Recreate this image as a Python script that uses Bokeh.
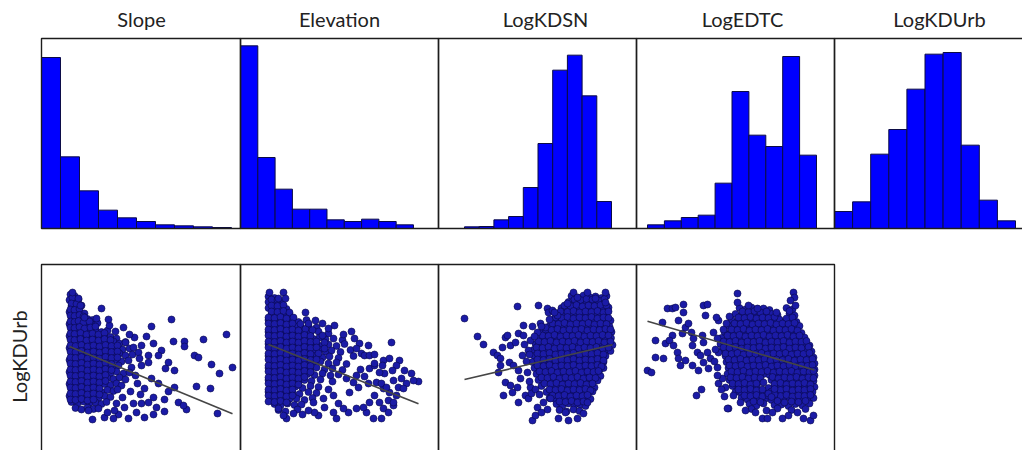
import math
import numpy as np
from bokeh.plotting import figure
from bokeh.models import Range1d, BoxAnnotation, Label
from bokeh.embed import file_html
from bokeh.resources import INLINE

# ---------------------------------------------------------------------------
# Data
# ---------------------------------------------------------------------------
variables = ["Slope", "Elevation", "LogKDSN", "LogEDTC", "LogKDUrb"]

# Histograms: 10 equal-width bins between the given limits
slope_bins = (0.0, 40.0)
elevation_bins = (0.0, 1500.0)
logkdsn_bins = (-2.0, 0.94)
logedtc_bins = (-1.98, 1.40)
logkdurb_bins = (-0.40, 2.20)

slope_counts = [513, 215, 113, 55, 32, 21, 11, 8, 5, 3]
elevation_counts = [548, 213, 118, 58, 58, 26, 21, 28, 21, 11]
logkdsn_counts = [5, 6, 26, 36, 123, 255, 475, 520, 398, 81]
logedtc_counts = [11, 23, 33, 40, 136, 411, 280, 246, 516, 220]
logkdurb_counts = [51, 80, 223, 297, 418, 523, 528, 250, 85, 23]

# Scatter observations: (predictor, LogKDUrb)
slope_pts = [
    (0.25, 2.20), (1.25, 2.17),
    (0.0, 2.09), (1.0, 2.06), (2.25, 2.10),
    (0.5, 1.97), (1.75, 1.95), (3.0, 1.98),
    (0.0, 1.85), (1.25, 1.83), (2.5, 1.86), (3.75, 1.82),
    (0.5, 1.73), (1.75, 1.70), (3.0, 1.74), (4.5, 1.71), (5.75, 1.69),
    (0.0, 1.61), (1.25, 1.59), (2.75, 1.62), (4.0, 1.58), (5.5, 1.60), (7.0, 1.63),
    (0.5, 1.49), (2.0, 1.46), (3.5, 1.50), (5.0, 1.47), (6.5, 1.49), (8.0, 1.45), (9.5, 1.48),
    (0.0, 1.37), (1.5, 1.35), (2.75, 1.38), (4.25, 1.34), (5.75, 1.36), (7.25, 1.33), (8.75, 1.37),
    (10.25, 1.35), (11.75, 1.32),
    (0.5, 1.25), (2.0, 1.22), (3.5, 1.26), (5.0, 1.23), (6.5, 1.25), (8.0, 1.21), (9.5, 1.24),
    (11.0, 1.26), (12.5, 1.22), (14.0, 1.25),
    (0.0, 1.13), (1.25, 1.11), (2.75, 1.14), (4.25, 1.10), (5.75, 1.12), (7.25, 1.09), (8.75, 1.13),
    (10.25, 1.11), (11.75, 1.14), (13.25, 1.10), (15.0, 1.12),
    (0.5, 1.01), (2.0, 0.98), (3.5, 1.02), (5.0, 0.99), (6.5, 1.00), (8.0, 0.97), (9.5, 1.01),
    (11.0, 0.99), (12.5, 1.02), (14.0, 0.98), (15.75, 1.00),
    (0.0, 0.89), (1.25, 0.87), (2.75, 0.90), (4.25, 0.86), (5.75, 0.88), (7.25, 0.85), (8.75, 0.89),
    (10.25, 0.87), (11.75, 0.90), (13.0, 0.86), (14.75, 0.88),
    (0.5, 0.77), (2.0, 0.74), (3.5, 0.78), (5.0, 0.75), (6.5, 0.76), (8.0, 0.73), (9.5, 0.77),
    (11.0, 0.75), (12.25, 0.78), (15.5, 0.74),
    (0.0, 0.65), (1.25, 0.63), (2.75, 0.66), (4.25, 0.62), (5.75, 0.64), (7.25, 0.61), (8.75, 0.65),
    (10.25, 0.63), (11.75, 0.66), (13.5, 0.62), (15.0, 0.64),
    (0.5, 0.53), (2.0, 0.50), (3.5, 0.54), (5.0, 0.51), (6.5, 0.52), (8.0, 0.49), (9.5, 0.53),
    (11.0, 0.51), (12.5, 0.54), (14.0, 0.50),
    (0.0, 0.41), (1.25, 0.39), (2.75, 0.42), (4.25, 0.38), (5.75, 0.40), (7.25, 0.37), (8.75, 0.41),
    (10.25, 0.39), (11.75, 0.42), (13.0, 0.38),
    (0.5, 0.29), (2.0, 0.26), (3.5, 0.30), (5.0, 0.27), (6.5, 0.28), (8.0, 0.25), (9.5, 0.29),
    (11.0, 0.27), (12.0, 0.30),
    (0.0, 0.17), (1.25, 0.15), (2.75, 0.18), (4.25, 0.14), (5.75, 0.16), (7.25, 0.13), (8.75, 0.17),
    (10.25, 0.15),
    (0.5, 0.05), (2.0, 0.02), (3.5, 0.06), (5.0, 0.03), (6.5, 0.04), (8.0, 0.01), (9.25, 0.05),
    (1.5, -0.07), (3.0, -0.10), (4.5, -0.06), (6.0, -0.09),
    (0.75, 2.14),
    (0.5, 2.02), (1.75, 2.01),
    (0.25, 1.90), (1.25, 1.89), (2.5, 1.91),
    (0.25, 1.78), (1.25, 1.77), (2.5, 1.79), (3.5, 1.76),
    (0.25, 1.66), (1.25, 1.65), (2.25, 1.67), (3.5, 1.64), (5.0, 1.66),
    (0.25, 1.54), (1.25, 1.53), (2.5, 1.55), (3.75, 1.52), (5.25, 1.54), (6.5, 1.56),
    (0.25, 1.42), (1.25, 1.41), (2.75, 1.43), (4.25, 1.40), (5.75, 1.42), (7.25, 1.40), (8.75, 1.43),
    (0.25, 1.30), (1.25, 1.29), (2.75, 1.31), (4.25, 1.28), (5.75, 1.30), (7.25, 1.28), (8.75, 1.31),
    (10.25, 1.29),
    (0.25, 1.18), (1.5, 1.17), (3.0, 1.19), (4.5, 1.16), (6.0, 1.18), (7.5, 1.16), (9.0, 1.19),
    (10.5, 1.17), (12.0, 1.18),
    (0.25, 1.06), (1.5, 1.05), (3.0, 1.07), (4.5, 1.04), (6.0, 1.06), (7.5, 1.04), (9.0, 1.07),
    (10.5, 1.05), (12.0, 1.06),
    (0.25, 0.94), (1.5, 0.93), (3.0, 0.95), (4.5, 0.92), (6.0, 0.94), (7.5, 0.92), (9.0, 0.95),
    (10.5, 0.93), (12.0, 0.94),
    (0.25, 0.82), (1.5, 0.81), (3.0, 0.83), (4.5, 0.80), (6.0, 0.82), (7.5, 0.80), (9.0, 0.83),
    (10.5, 0.81),
    (0.25, 0.70), (1.5, 0.69), (3.0, 0.71), (4.5, 0.68), (6.0, 0.70), (7.5, 0.68), (9.0, 0.71),
    (10.5, 0.69),
    (0.25, 0.58), (1.5, 0.57), (3.0, 0.59), (4.5, 0.56), (6.0, 0.58), (7.5, 0.56), (9.0, 0.59),
    (0.25, 0.46), (1.5, 0.45), (3.0, 0.47), (4.5, 0.44), (6.0, 0.46), (7.5, 0.44), (9.0, 0.47),
    (0.25, 0.34), (1.5, 0.33), (3.0, 0.35), (4.5, 0.32), (6.0, 0.34), (7.5, 0.32),
    (0.25, 0.22), (1.5, 0.21), (3.0, 0.23), (4.5, 0.20), (6.0, 0.22), (7.5, 0.20),
    (0.25, 0.10), (1.5, 0.09), (3.0, 0.11), (4.5, 0.08), (6.0, 0.10),
    (8.0, 1.92), (6.75, 1.72), (10.0, 1.58), (13.5, 1.54), (20.5, 1.56), (25.5, 1.70), (16.25, 1.34),
    (19.25, 1.36), (21.0, 1.22), (26.0, 1.26), (28.75, 1.26), (28.75, 1.16), (33.5, 1.30), (39.25, 1.40),
    (23.0, 1.08), (22.25, 0.98), (19.75, 0.98), (24.75, 0.84), (24.0, 0.72), (26.25, 0.68), (31.25, 0.98),
    (32.25, 0.94), (35.5, 0.80), (40.75, 0.74), (37.5, 0.62), (31.75, 0.36), (35.25, 0.32), (26.25, 0.34),
    (24.75, 0.26), (22.25, 0.42), (20.5, 0.52), (18.75, 0.32), (17.75, 0.20), (21.0, 0.14), (23.75, 0.10),
    (27.25, 0.04), (29.25, -0.10), (28.5, -0.02), (37.0, -0.18), (23.75, -0.14), (21.0, -0.20),
    (18.75, -0.26), (16.75, -0.16), (14.75, -0.28), (12.25, -0.20), (11.0, -0.28), (8.75, -0.26),
    (5.75, -0.30), (4.75, -0.12), (7.25, -0.08), (13.75, -0.06), (16.0, 0.02), (11.75, 0.02), (18.0, 0.02),
    (19.75, 0.04), (21.75, -0.06), (18.0, 0.78), (19.75, 0.84), (17.25, 1.04), (16.0, 1.14), (18.0, 1.18),
    (14.0, 1.24), (0.75, 2.24), (2.25, 2.12), (2.75, 1.98), (3.75, 1.74),
    (9.75, 1.70), (11.5, 1.46), (16.5, 0.58), (17.0, 0.42), (15.25, 0.26), (13.25, 0.14), (11.25, -0.12),
    (9.5, -0.16), (15.0, 1.40), (17.5, 0.92),
]

elevation_pts = [
    (0, 2.16), (60, 2.13),
    (0, 2.05), (60, 2.02), (120, 2.06),
    (0, 1.93), (60, 1.90), (120, 1.94), (180, 1.91),
    (30, 1.81), (90, 1.78), (150, 1.82), (210, 1.79),
    (0, 1.69), (60, 1.66), (120, 1.70), (180, 1.67), (240, 1.68), (300, 1.65), (380, 1.69),
    (30, 1.57), (90, 1.54), (150, 1.58), (210, 1.55), (270, 1.56), (330, 1.53), (400, 1.57), (480, 1.54),
    (0, 1.45), (60, 1.42), (120, 1.46), (180, 1.43), (240, 1.44), (300, 1.41), (360, 1.45), (420, 1.43),
    (500, 1.46), (600, 1.42),
    (30, 1.33), (90, 1.30), (150, 1.34), (210, 1.31), (270, 1.32), (330, 1.29), (390, 1.33), (450, 1.31),
    (510, 1.34), (570, 1.30), (650, 1.32), (740, 1.29),
    (0, 1.21), (60, 1.18), (120, 1.22), (180, 1.19), (240, 1.20), (300, 1.17), (360, 1.21), (420, 1.19),
    (480, 1.22), (540, 1.18), (600, 1.20), (680, 1.17), (760, 1.21),
    (30, 1.09), (90, 1.06), (150, 1.10), (210, 1.07), (270, 1.08), (330, 1.05), (390, 1.09), (450, 1.07),
    (510, 1.10), (570, 1.06), (630, 1.08), (720, 1.05), (820, 1.09),
    (0, 0.97), (60, 0.94), (120, 0.98), (180, 0.95), (240, 0.96), (300, 0.93), (360, 0.97), (420, 0.95),
    (480, 0.98), (540, 0.94), (610, 0.96), (700, 0.93), (850, 0.97),
    (30, 0.85), (90, 0.82), (150, 0.86), (210, 0.83), (270, 0.84), (330, 0.81), (390, 0.85), (450, 0.83),
    (520, 0.86), (600, 0.82), (680, 0.84), (780, 0.81),
    (0, 0.73), (60, 0.70), (120, 0.74), (180, 0.71), (240, 0.72), (300, 0.69), (360, 0.73), (420, 0.71),
    (480, 0.74), (560, 0.70), (640, 0.72), (740, 0.69),
    (30, 0.61), (90, 0.58), (150, 0.62), (210, 0.59), (270, 0.60), (330, 0.57), (390, 0.61), (460, 0.59),
    (540, 0.62), (620, 0.58), (700, 0.60),
    (0, 0.49), (60, 0.46), (120, 0.50), (180, 0.47), (240, 0.48), (300, 0.45), (360, 0.49), (430, 0.47),
    (520, 0.50), (640, 0.46),
    (30, 0.37), (90, 0.34), (150, 0.38), (210, 0.35), (270, 0.36), (340, 0.33), (420, 0.37), (500, 0.35),
    (0, 0.25), (60, 0.22), (120, 0.26), (180, 0.23), (240, 0.24), (310, 0.21), (400, 0.25), (480, 0.23),
    (30, 0.13), (90, 0.10), (150, 0.14), (210, 0.11), (280, 0.12), (360, 0.09), (440, 0.13),
    (60, 0.01), (120, -0.02), (190, 0.02), (260, -0.01), (330, 0.00),
    (100, -0.11), (170, -0.14), (290, -0.10),
    (30, 2.10), (90, 2.09),
    (30, 1.98), (90, 1.97), (150, 1.99),
    (30, 1.86), (90, 1.85), (150, 1.87), (210, 1.84),
    (0, 1.74), (60, 1.73), (120, 1.75), (180, 1.72), (250, 1.74),
    (0, 1.62), (60, 1.61), (120, 1.63), (180, 1.60), (240, 1.62), (320, 1.61),
    (0, 1.50), (60, 1.49), (120, 1.51), (180, 1.48), (240, 1.50), (300, 1.48), (370, 1.51), (440, 1.49),
    (0, 1.38), (60, 1.37), (120, 1.39), (180, 1.36), (240, 1.38), (300, 1.36), (360, 1.39), (420, 1.37),
    (540, 1.38),
    (0, 1.26), (60, 1.25), (120, 1.27), (180, 1.24), (240, 1.26), (300, 1.24), (360, 1.27), (420, 1.25),
    (480, 1.26), (560, 1.24),
    (0, 1.14), (60, 1.13), (120, 1.15), (180, 1.12), (240, 1.14), (300, 1.12), (360, 1.15), (420, 1.13),
    (480, 1.14), (560, 1.12),
    (0, 1.02), (60, 1.01), (120, 1.03), (180, 1.00), (240, 1.02), (300, 1.00), (360, 1.03), (420, 1.01),
    (500, 1.02),
    (0, 0.90), (60, 0.89), (120, 0.91), (180, 0.88), (240, 0.90), (300, 0.88), (360, 0.91), (420, 0.89),
    (480, 0.90),
    (0, 0.78), (60, 0.77), (120, 0.79), (180, 0.76), (240, 0.78), (300, 0.76), (360, 0.79), (420, 0.77),
    (0, 0.66), (60, 0.65), (120, 0.67), (180, 0.64), (240, 0.66), (300, 0.64), (360, 0.67), (420, 0.65),
    (0, 0.54), (60, 0.53), (120, 0.55), (180, 0.52), (240, 0.54), (300, 0.52), (360, 0.55),
    (0, 0.42), (60, 0.41), (120, 0.43), (180, 0.40), (240, 0.42), (300, 0.40),
    (0, 0.30), (60, 0.29), (120, 0.31), (180, 0.28), (240, 0.30),
    (0, 0.18), (60, 0.17), (120, 0.19), (180, 0.16), (240, 0.18),
    (0, 0.06), (60, 0.05), (120, 0.07), (180, 0.04),
    (10, 2.24), (150, 2.24), (100, 2.12), (170, 2.12), (370, 1.84), (400, 1.62), (470, 1.68), (660, 1.58),
    (750, 1.40), (830, 1.46), (860, 1.32), (910, 1.22), (1230, 1.24), (930, 1.02), (960, 0.98), (1010, 0.98),
    (1060, 1.00), (1150, 0.88), (1210, 0.92), (1310, 0.88), (1280, 0.78), (1360, 0.68), (1430, 0.62),
    (1500, 0.46), (1450, 0.48), (1380, 0.42), (1330, 0.52), (1250, 0.48), (1160, 0.62), (1110, 0.64),
    (1080, 0.44), (1150, 0.32), (1210, 0.24), (1280, 0.18), (1200, 0.08), (1250, -0.02), (1150, -0.08),
    (1200, -0.16), (1130, -0.28), (1050, -0.28), (980, -0.16), (950, -0.06), (880, -0.08), (800, -0.16),
    (680, -0.28), (650, -0.16), (750, -0.08), (500, -0.22), (460, -0.16), (400, -0.12), (180, -0.28),
    (150, -0.22), (100, -0.08), (450, 0.04), (550, 0.12), (650, 0.18), (810, 0.24), (900, 0.34),
    (1000, 0.42), (850, 0.44), (780, 0.52), (880, 0.58), (1010, 0.72), (1060, 0.78), (1130, 0.42),
    (1180, 0.34), (1300, 0.34), (1350, 0.32), (1060, 0.18), (1010, 0.04), (1110, 0.04), (1250, 0.04),
    (1060, 0.82), (1140, 0.78), (1240, 0.68), (1000, 1.18),
    (540, 1.62), (600, 1.52), (880, 1.12), (920, 0.70), (960, 0.56), (600, 0.30), (700, 0.02),
    (560, -0.06), (340, -0.20), (250, -0.18),
]

logkdsn_pts = [
    (0.14, 2.17), (0.26, 2.14), (0.38, 2.18), (0.50, 2.15), (0.62, 2.16), (0.74, 2.13), (0.84, 2.17),
    (0.08, 2.05), (0.20, 2.02), (0.32, 2.06), (0.44, 2.03), (0.56, 2.04), (0.68, 2.01), (0.80, 2.05),
    (-0.06, 1.93), (0.06, 1.90), (0.18, 1.94), (0.30, 1.91), (0.42, 1.92), (0.54, 1.89), (0.66, 1.93),
    (0.78, 1.91), (0.88, 1.94),
    (-0.12, 1.81), (0.0, 1.78), (0.12, 1.82), (0.24, 1.79), (0.36, 1.80), (0.48, 1.77), (0.60, 1.81),
    (0.72, 1.79), (0.84, 1.82),
    (-0.24, 1.69), (-0.12, 1.66), (0.0, 1.70), (0.12, 1.67), (0.24, 1.68), (0.36, 1.65), (0.48, 1.69),
    (0.60, 1.67), (0.72, 1.70), (0.84, 1.66), (0.92, 1.68),
    (-0.30, 1.57), (-0.18, 1.54), (-0.06, 1.58), (0.06, 1.55), (0.18, 1.56), (0.30, 1.53), (0.42, 1.57),
    (0.54, 1.55), (0.66, 1.58), (0.78, 1.54), (0.90, 1.56),
    (-0.44, 1.45), (-0.32, 1.42), (-0.20, 1.46), (-0.08, 1.43), (0.04, 1.44), (0.16, 1.41), (0.28, 1.45),
    (0.40, 1.43), (0.52, 1.46), (0.64, 1.42), (0.76, 1.44), (0.88, 1.41), (0.94, 1.45),
    (-0.50, 1.33), (-0.38, 1.30), (-0.26, 1.34), (-0.14, 1.31), (-0.02, 1.32), (0.10, 1.29), (0.22, 1.33),
    (0.34, 1.31), (0.46, 1.34), (0.58, 1.30), (0.70, 1.32), (0.82, 1.29), (0.93, 1.33),
    (-0.58, 1.21), (-0.46, 1.18), (-0.34, 1.22), (-0.22, 1.19), (-0.10, 1.20), (0.02, 1.17), (0.14, 1.21),
    (0.26, 1.19), (0.38, 1.22), (0.50, 1.18), (0.62, 1.20), (0.74, 1.17), (0.86, 1.21), (0.96, 1.19),
    (-0.62, 1.09), (-0.50, 1.06), (-0.38, 1.10), (-0.26, 1.07), (-0.14, 1.08), (-0.02, 1.05), (0.10, 1.09),
    (0.22, 1.07), (0.34, 1.10), (0.46, 1.06), (0.58, 1.08), (0.70, 1.05), (0.82, 1.09), (0.92, 1.07),
    (-0.60, 0.97), (-0.48, 0.94), (-0.36, 0.98), (-0.24, 0.95), (-0.12, 0.96), (0.0, 0.93), (0.12, 0.97),
    (0.24, 0.95), (0.36, 0.98), (0.48, 0.94), (0.60, 0.96), (0.72, 0.93), (0.82, 0.97),
    (-0.64, 0.85), (-0.52, 0.82), (-0.40, 0.86), (-0.28, 0.83), (-0.16, 0.84), (-0.04, 0.81), (0.08, 0.85),
    (0.20, 0.83), (0.32, 0.86), (0.44, 0.82), (0.56, 0.84), (0.68, 0.81), (0.78, 0.85),
    (-0.60, 0.73), (-0.48, 0.70), (-0.36, 0.74), (-0.24, 0.71), (-0.12, 0.72), (0.0, 0.69), (0.12, 0.73),
    (0.24, 0.71), (0.36, 0.74), (0.48, 0.70), (0.60, 0.72), (0.70, 0.69), (0.78, 0.73),
    (-0.56, 0.61), (-0.44, 0.58), (-0.32, 0.62), (-0.20, 0.59), (-0.08, 0.60), (0.04, 0.57), (0.16, 0.61),
    (0.28, 0.59), (0.40, 0.62), (0.52, 0.58), (0.64, 0.60), (0.72, 0.57),
    (-0.52, 0.49), (-0.28, 0.50), (-0.16, 0.47), (-0.04, 0.48), (0.08, 0.45), (0.20, 0.49), (0.32, 0.47),
    (0.44, 0.50), (0.56, 0.46), (0.66, 0.48),
    (-0.46, 0.37), (-0.22, 0.38), (-0.10, 0.35), (0.02, 0.36), (0.14, 0.33), (0.26, 0.37), (0.38, 0.35),
    (0.50, 0.38), (0.60, 0.34),
    (-0.36, 0.25), (-0.24, 0.22), (-0.12, 0.26), (0.0, 0.23), (0.12, 0.24), (0.24, 0.21), (0.36, 0.25),
    (0.48, 0.23), (0.56, 0.26),
    (-0.30, 0.13), (-0.18, 0.10), (-0.06, 0.14), (0.06, 0.11), (0.18, 0.12), (0.30, 0.09), (0.42, 0.13),
    (0.52, 0.11),
    (-0.16, 0.01), (-0.04, -0.02), (0.08, 0.02), (0.20, -0.01), (0.32, 0.00), (0.42, -0.03),
    (-0.10, -0.11), (0.04, -0.14), (0.18, -0.10), (0.30, -0.13),
    (0.20, 2.10), (0.32, 2.09), (0.44, 2.11), (0.56, 2.10), (0.68, 2.08), (0.80, 2.11),
    (0.0, 1.98), (0.12, 1.97), (0.24, 1.99), (0.36, 1.96), (0.48, 1.98), (0.60, 1.97), (0.72, 1.99),
    (0.84, 1.98),
    (-0.08, 1.86), (0.06, 1.85), (0.18, 1.87), (0.30, 1.84), (0.42, 1.86), (0.54, 1.85), (0.66, 1.87),
    (0.78, 1.84), (0.88, 1.86),
    (-0.18, 1.74), (-0.06, 1.73), (0.06, 1.75), (0.18, 1.72), (0.30, 1.74), (0.42, 1.73), (0.54, 1.75),
    (0.66, 1.72), (0.78, 1.74), (0.88, 1.73),
    (-0.24, 1.62), (-0.12, 1.61), (0.0, 1.63), (0.12, 1.60), (0.24, 1.62), (0.36, 1.61), (0.48, 1.63),
    (0.60, 1.60), (0.72, 1.62), (0.84, 1.61),
    (-0.38, 1.50), (-0.26, 1.49), (-0.14, 1.51), (-0.02, 1.48), (0.10, 1.50), (0.22, 1.49), (0.34, 1.51),
    (0.46, 1.48), (0.58, 1.50), (0.70, 1.49), (0.82, 1.51), (0.92, 1.50),
    (-0.44, 1.38), (-0.32, 1.37), (-0.20, 1.39), (-0.08, 1.36), (0.04, 1.38), (0.16, 1.37), (0.28, 1.39),
    (0.40, 1.36), (0.52, 1.38), (0.64, 1.37), (0.76, 1.39), (0.88, 1.38),
    (-0.52, 1.26), (-0.40, 1.25), (-0.28, 1.27), (-0.16, 1.24), (-0.04, 1.26), (0.08, 1.25), (0.20, 1.27),
    (0.32, 1.24), (0.44, 1.26), (0.56, 1.25), (0.68, 1.27), (0.80, 1.24), (0.92, 1.26),
    (-0.56, 1.14), (-0.44, 1.13), (-0.32, 1.15), (-0.20, 1.12), (-0.08, 1.14), (0.04, 1.13), (0.16, 1.15),
    (0.28, 1.12), (0.40, 1.14), (0.52, 1.13), (0.64, 1.15), (0.76, 1.12), (0.88, 1.14),
    (-0.54, 1.02), (-0.42, 1.01), (-0.30, 1.03), (-0.18, 1.00), (-0.06, 1.02), (0.06, 1.01), (0.18, 1.03),
    (0.30, 1.00), (0.42, 1.02), (0.54, 1.01), (0.66, 1.03), (0.78, 1.00),
    (-0.54, 0.90), (-0.42, 0.89), (-0.30, 0.91), (-0.18, 0.88), (-0.06, 0.90), (0.06, 0.89), (0.18, 0.91),
    (0.30, 0.88), (0.42, 0.90), (0.54, 0.89), (0.66, 0.91), (0.78, 0.88),
    (-0.54, 0.78), (-0.42, 0.77), (-0.30, 0.79), (-0.18, 0.76), (-0.06, 0.78), (0.06, 0.77), (0.18, 0.79),
    (0.30, 0.76), (0.42, 0.78), (0.54, 0.77), (0.66, 0.79), (0.74, 0.76),
    (-0.50, 0.66), (-0.38, 0.65), (-0.26, 0.67), (-0.14, 0.64), (-0.02, 0.66), (0.10, 0.65), (0.22, 0.67),
    (0.34, 0.64), (0.46, 0.66), (0.58, 0.65), (0.68, 0.67),
    (-0.46, 0.54), (-0.34, 0.53), (-0.22, 0.55), (-0.10, 0.52), (0.02, 0.54), (0.14, 0.53), (0.26, 0.55),
    (0.38, 0.52), (0.50, 0.54), (0.62, 0.53),
    (-0.40, 0.42), (-0.28, 0.41), (-0.16, 0.43), (-0.04, 0.40), (0.08, 0.42), (0.20, 0.41), (0.32, 0.43),
    (0.44, 0.40), (0.56, 0.42),
    (-0.30, 0.30), (-0.18, 0.29), (-0.06, 0.31), (0.06, 0.28), (0.18, 0.30), (0.30, 0.29), (0.42, 0.31),
    (0.52, 0.28),
    (-0.24, 0.18), (-0.12, 0.17), (0.0, 0.19), (0.12, 0.16), (0.24, 0.18), (0.36, 0.17), (0.46, 0.19),
    (-0.10, 0.06), (0.02, 0.05), (0.14, 0.07), (0.26, 0.04), (0.38, 0.06),
    (-2.00, 1.72), (-1.74, 1.36), (-1.62, 1.20), (-0.94, 1.96), (-0.52, 1.98), (-0.34, 1.92), (-0.32, 1.84),
    (-1.42, 1.04), (-1.34, 0.98), (-1.28, 0.92), (-1.18, 1.34), (-1.14, 1.38), (-1.24, 1.14), (-1.08, 1.18),
    (-0.98, 1.24), (-0.92, 1.42), (-0.82, 1.38), (-1.28, 0.78), (-1.32, 0.64), (-1.10, 0.84), (-1.18, 0.44),
    (-1.08, 0.38), (-0.94, 0.34), (-1.22, 0.18), (-0.92, 0.04), (-1.04, 0.24), (-0.78, 0.18), (-0.72, 0.12),
    (-0.68, 0.34), (-0.88, 0.52), (-0.74, 0.64), (-0.92, 0.68), (-1.02, 0.78), (-0.84, 0.98), (-0.72, 1.08),
    (-0.68, 1.28), (-0.54, 1.44), (-0.64, 1.56), (-0.48, 1.62), (-0.38, 1.54), (-0.82, 1.58),
    (-0.64, -0.32), (-0.58, -0.22), (-0.34, -0.10), (-0.12, -0.28), (0.08, -0.32), (0.26, -0.28),
    (0.38, -0.18), (0.46, 0.04), (0.02, -0.16), (-0.42, 0.04), (-0.54, -0.06), (-0.28, 0.12),
    (0.18, 2.24), (0.46, 2.24), (0.82, 2.24), (0.26, 2.14), (0.62, 2.12), (0.82, 2.04), (0.06, 2.02),
    (-0.14, 1.78), (-0.24, 1.88),
    (-0.70, 1.00), (-0.76, 0.86), (-0.70, 0.46), (-0.66, 0.22), (-0.80, 1.20), (-0.60, 1.36),
    (-0.58, 0.30), (-0.50, 0.20), (-0.46, 1.56), (-0.30, 1.70), (-0.20, 1.84), (-0.46, -0.16),
]

logedtc_pts = [
    (-0.14, 1.93), (-0.02, 1.90), (0.10, 1.94), (0.22, 1.91), (0.34, 1.92), (0.46, 1.89), (0.80, 1.93),
    (0.92, 1.90),
    (-0.22, 1.81), (-0.10, 1.78), (0.02, 1.82), (0.14, 1.79), (0.26, 1.80), (0.38, 1.77), (0.50, 1.81),
    (0.62, 1.79), (0.86, 1.82), (0.96, 1.78),
    (-0.30, 1.69), (-0.18, 1.66), (-0.06, 1.70), (0.06, 1.67), (0.18, 1.68), (0.30, 1.65), (0.42, 1.69),
    (0.54, 1.67), (0.66, 1.70), (0.78, 1.66), (0.90, 1.68), (1.00, 1.65),
    (-0.36, 1.57), (-0.24, 1.54), (-0.12, 1.58), (0.0, 1.55), (0.12, 1.56), (0.24, 1.53), (0.36, 1.57),
    (0.48, 1.55), (0.60, 1.58), (0.72, 1.54), (0.84, 1.56), (0.96, 1.53), (1.06, 1.57),
    (-0.44, 1.45), (-0.32, 1.42), (-0.20, 1.46), (-0.08, 1.43), (0.04, 1.44), (0.16, 1.41), (0.28, 1.45),
    (0.40, 1.43), (0.52, 1.46), (0.64, 1.42), (0.76, 1.44), (0.88, 1.41), (1.00, 1.45), (1.10, 1.43),
    (-0.50, 1.33), (-0.38, 1.30), (-0.26, 1.34), (-0.14, 1.31), (-0.02, 1.32), (0.10, 1.29), (0.22, 1.33),
    (0.34, 1.31), (0.46, 1.34), (0.58, 1.30), (0.70, 1.32), (0.82, 1.29), (0.94, 1.33), (1.06, 1.31),
    (1.16, 1.34),
    (-0.52, 1.21), (-0.40, 1.18), (-0.28, 1.22), (-0.16, 1.19), (-0.04, 1.20), (0.08, 1.17), (0.20, 1.21),
    (0.32, 1.19), (0.44, 1.22), (0.56, 1.18), (0.68, 1.20), (0.80, 1.17), (0.92, 1.21), (1.04, 1.19),
    (1.16, 1.22), (1.26, 1.18),
    (-0.48, 1.09), (-0.36, 1.06), (-0.24, 1.10), (-0.12, 1.07), (0.0, 1.08), (0.12, 1.05), (0.24, 1.09),
    (0.36, 1.07), (0.48, 1.10), (0.60, 1.06), (0.72, 1.08), (0.84, 1.05), (0.96, 1.09), (1.08, 1.07),
    (1.20, 1.10), (1.30, 1.06),
    (-0.42, 0.97), (-0.30, 0.94), (-0.18, 0.98), (-0.06, 0.95), (0.06, 0.96), (0.18, 0.93), (0.30, 0.97),
    (0.42, 0.95), (0.54, 0.98), (0.66, 0.94), (0.78, 0.96), (0.90, 0.93), (1.02, 0.97), (1.14, 0.95),
    (1.26, 0.98), (1.34, 0.94),
    (-0.40, 0.85), (-0.28, 0.82), (-0.16, 0.86), (-0.04, 0.83), (0.08, 0.84), (0.20, 0.81), (0.32, 0.85),
    (0.44, 0.83), (0.56, 0.86), (0.68, 0.82), (0.80, 0.84), (0.92, 0.81), (1.04, 0.85), (1.16, 0.83),
    (1.28, 0.86), (1.36, 0.82),
    (-0.36, 0.73), (-0.24, 0.70), (-0.12, 0.74), (0.0, 0.71), (0.12, 0.72), (0.24, 0.69), (0.36, 0.73),
    (0.48, 0.71), (0.60, 0.74), (0.72, 0.70), (0.84, 0.72), (0.96, 0.69), (1.08, 0.73), (1.20, 0.71),
    (1.30, 0.74), (1.36, 0.70),
    (-0.38, 0.61), (-0.26, 0.58), (-0.14, 0.62), (-0.02, 0.59), (0.10, 0.60), (0.22, 0.57), (0.34, 0.61),
    (0.46, 0.59), (0.58, 0.62), (0.70, 0.58), (0.82, 0.60), (0.94, 0.57), (1.06, 0.61), (1.18, 0.59),
    (1.28, 0.62), (1.36, 0.58),
    (-0.34, 0.49), (-0.22, 0.46), (-0.10, 0.50), (0.02, 0.47), (0.14, 0.48), (0.26, 0.45), (0.50, 0.49),
    (0.62, 0.47), (0.74, 0.50), (0.86, 0.46), (0.98, 0.48), (1.10, 0.45), (1.22, 0.49), (1.34, 0.47),
    (-0.28, 0.37), (-0.16, 0.34), (-0.04, 0.38), (0.08, 0.35), (0.20, 0.36), (0.44, 0.33), (0.56, 0.37),
    (0.68, 0.35), (0.80, 0.38), (0.92, 0.34), (1.04, 0.36), (1.16, 0.33), (1.28, 0.37), (1.36, 0.35),
    (-0.22, 0.25), (-0.10, 0.22), (0.02, 0.26), (0.14, 0.23), (0.26, 0.24), (0.38, 0.21), (0.62, 0.25),
    (0.74, 0.23), (0.86, 0.26), (0.98, 0.22), (1.10, 0.24), (1.22, 0.21), (1.32, 0.25),
    (-0.10, 0.13), (0.02, 0.10), (0.14, 0.14), (0.26, 0.11), (0.38, 0.12), (0.50, 0.09), (0.62, 0.13),
    (0.74, 0.11), (0.86, 0.14), (0.98, 0.10), (1.10, 0.12), (1.22, 0.09), (1.34, 0.13),
    (0.06, 0.01), (0.20, -0.02), (0.34, 0.02), (0.56, -0.01), (0.70, 0.00), (0.84, -0.03), (0.98, 0.01),
    (1.12, -0.02), (1.26, 0.02),
    (0.10, -0.09), (0.40, -0.12), (0.62, -0.08), (0.90, -0.11), (1.18, -0.09),
    (-0.08, 1.86), (0.04, 1.85), (0.16, 1.87), (0.28, 1.84), (0.40, 1.86), (0.86, 1.87),
    (-0.16, 1.74), (-0.04, 1.73), (0.08, 1.75), (0.20, 1.72), (0.32, 1.74), (0.44, 1.73), (0.56, 1.75),
    (0.80, 1.72), (0.92, 1.74),
    (-0.24, 1.62), (-0.12, 1.61), (0.0, 1.63), (0.12, 1.60), (0.24, 1.62), (0.36, 1.61), (0.48, 1.63),
    (0.60, 1.60), (0.72, 1.62), (0.84, 1.61), (0.96, 1.63),
    (-0.30, 1.50), (-0.18, 1.49), (-0.06, 1.51), (0.06, 1.48), (0.18, 1.50), (0.30, 1.49), (0.42, 1.51),
    (0.54, 1.48), (0.66, 1.50), (0.78, 1.49), (0.90, 1.51), (1.02, 1.48),
    (-0.38, 1.38), (-0.26, 1.37), (-0.14, 1.39), (-0.02, 1.36), (0.10, 1.38), (0.22, 1.37), (0.34, 1.39),
    (0.46, 1.36), (0.58, 1.38), (0.70, 1.37), (0.82, 1.39), (0.94, 1.36), (1.06, 1.38),
    (-0.46, 1.26), (-0.34, 1.25), (-0.22, 1.27), (-0.10, 1.24), (0.02, 1.26), (0.14, 1.25), (0.26, 1.27),
    (0.38, 1.24), (0.50, 1.26), (0.62, 1.25), (0.74, 1.27), (0.86, 1.24), (0.98, 1.26), (1.10, 1.25),
    (1.20, 1.27),
    (-0.46, 1.14), (-0.34, 1.13), (-0.22, 1.15), (-0.10, 1.12), (0.02, 1.14), (0.14, 1.13), (0.26, 1.15),
    (0.38, 1.12), (0.50, 1.14), (0.62, 1.13), (0.74, 1.15), (0.86, 1.12), (0.98, 1.14), (1.10, 1.13),
    (1.24, 1.15),
    (-0.42, 1.02), (-0.30, 1.01), (-0.18, 1.03), (-0.06, 1.00), (0.06, 1.02), (0.18, 1.01), (0.30, 1.03),
    (0.42, 1.00), (0.54, 1.02), (0.66, 1.01), (0.78, 1.03), (0.90, 1.00), (1.02, 1.02), (1.14, 1.01),
    (1.26, 1.03),
    (-0.36, 0.90), (-0.24, 0.89), (-0.12, 0.91), (0.0, 0.88), (0.12, 0.90), (0.24, 0.89), (0.36, 0.91),
    (0.48, 0.88), (0.60, 0.90), (0.72, 0.89), (0.84, 0.91), (0.96, 0.88), (1.08, 0.90), (1.20, 0.89),
    (1.32, 0.91),
    (-0.34, 0.78), (-0.22, 0.77), (-0.10, 0.79), (0.02, 0.76), (0.14, 0.78), (0.26, 0.77), (0.38, 0.79),
    (0.50, 0.76), (0.62, 0.78), (0.74, 0.77), (0.86, 0.79), (0.98, 0.76), (1.10, 0.78), (1.22, 0.77),
    (1.32, 0.79),
    (-0.30, 0.66), (-0.18, 0.65), (-0.06, 0.67), (0.06, 0.64), (0.18, 0.66), (0.30, 0.65), (0.42, 0.67),
    (0.54, 0.64), (0.66, 0.66), (0.78, 0.65), (0.90, 0.67), (1.02, 0.64), (1.14, 0.66), (1.26, 0.65),
    (1.34, 0.67),
    (-0.32, 0.54), (-0.20, 0.53), (-0.08, 0.55), (0.04, 0.52), (0.16, 0.54), (0.28, 0.53), (0.52, 0.55),
    (0.64, 0.52), (0.76, 0.54), (0.88, 0.53), (1.00, 0.55), (1.12, 0.52), (1.24, 0.54), (1.34, 0.53),
    (-0.28, 0.42), (-0.16, 0.41), (-0.04, 0.43), (0.08, 0.40), (0.20, 0.42), (0.56, 0.41), (0.68, 0.43),
    (0.80, 0.40), (0.92, 0.42), (1.04, 0.41), (1.16, 0.43), (1.28, 0.40),
    (-0.16, 0.30), (-0.04, 0.29), (0.08, 0.31), (0.20, 0.28), (0.32, 0.30), (0.68, 0.29), (0.80, 0.31),
    (0.92, 0.28), (1.04, 0.30), (1.16, 0.29), (1.28, 0.31),
    (-0.04, 0.18), (0.08, 0.17), (0.20, 0.19), (0.32, 0.16), (0.44, 0.18), (0.68, 0.17), (0.80, 0.19),
    (0.92, 0.16), (1.04, 0.18), (1.16, 0.17), (1.28, 0.19),
    (0.14, 0.06), (0.28, 0.05), (0.62, 0.07), (0.76, 0.04), (0.90, 0.06), (1.04, 0.05), (1.18, 0.07),
    (0.50, 0.26), (0.56, 0.20), (0.56, 0.31), (0.34, 0.44), (0.44, 0.22), (0.50, 0.15),
    (-1.98, 0.68), (-1.90, 0.64), (-1.82, 1.28), (-1.82, 0.94), (-1.68, 1.64), (-1.62, 1.22), (-1.66, 0.92),
    (-1.58, 1.92), (-1.48, 1.92), (-1.42, 1.94), (-1.26, 2.00), (-1.26, 1.84), (-1.36, 1.68), (-1.48, 1.38),
    (-1.54, 1.28), (-1.46, 1.18), (-1.38, 1.04), (-1.36, 0.92), (-1.22, 0.88), (-1.28, 1.42), (-1.22, 1.54),
    (-1.16, 1.62), (-1.10, 1.44), (-1.06, 1.32), (-1.08, 1.18), (-0.98, 1.04), (-0.92, 0.98), (-0.86, 0.84),
    (-0.78, 1.04), (-0.86, 1.24), (-0.88, 1.38), (-0.82, 1.78), (-0.86, 1.98), (-0.78, 2.00), (-0.96, 0.68),
    (-1.08, 0.78), (-0.76, 0.72), (-0.72, 0.92), (-0.90, 0.30), (-1.00, 0.18), (-0.58, 0.74), (-0.56, 1.04),
    (-0.58, 1.32), (-0.66, 1.44), (-0.56, 1.68), (-0.60, 1.74), (-0.36, -0.08), (-0.56, 0.42), (-0.48, 0.52),
    (-0.42, 0.34), (-0.18, 2.22), (-0.18, 2.04), (0.94, 2.24), (0.96, 2.14), (0.88, 2.08), (0.98, 1.98),
    (0.22, 1.92), (0.04, 1.98), (0.60, 1.84), (-0.12, 0.04), (-0.02, -0.12), (0.18, -0.16), (0.32, -0.28),
    (0.42, -0.28), (0.52, -0.16), (0.72, -0.28), (0.84, -0.22), (1.02, -0.16), (1.14, -0.28), (1.28, -0.32),
    (1.34, -0.22), (-0.26, 0.18), (-0.38, -0.08), (-1.32, 0.78),
    (-0.62, 1.10), (-0.64, 0.86), (-0.58, 0.58), (-0.50, 0.30), (-0.44, 0.16), (-0.46, 1.50),
    (-0.40, 1.62), (-0.34, 1.76),
]

# Least-squares fit lines (intercept, slope) of LogKDUrb on each predictor
fit_intercepts = [1.16, 1.20, 0.97, 1.087]
fit_slopes = [-0.033, -0.00079, 0.235, -0.291]

# ---------------------------------------------------------------------------
# Layout (page pixels) and per-panel view windows
# ---------------------------------------------------------------------------
W, H = 1022, 450
COLS = [(41, 240), (240, 438), (438, 636), (636, 834), (834, 1032)]
TOP_ROW = (38, 228)
BOTTOM_ROW = (264, 454)
TITLE_X = [141, 339, 545, 742, 939]

hist_xwin = [(0.0, 41.9), (0.0, 1717.0), (-2.52, 1.44), (-2.20, 1.76), (-0.40, 2.444)]
count_win = (0.0, 570.0)
scatter_xwin = [(-7.0, 42.75), (-280.0, 1700.0), (-2.52, 1.44), (-2.20, 1.76)]
logkdurb_win = (-1.0, 2.8)

BAR_FILL = "#0000ff"
BAR_LINE = "#0b0b45"
DOT_FILL = "#1b1ba6"
DOT_LINE = "#08084a"
FIT_COLOR = "#454545"
FRAME_COLOR = "#1c1c1c"
TEXT_COLOR = "#222222"
FONT = "Lato"

p = figure(width=W, height=H, x_range=Range1d(0, W), y_range=Range1d(H, 0),
           toolbar_location=None, output_backend="svg", min_border=0,
           x_axis_location=None, y_axis_location=None)
p.xgrid.visible = False
p.ygrid.visible = False
p.outline_line_color = None
p.background_fill_color = "white"
p.border_fill_color = "white"


def add_panel_ranges(name, cols, rows, xwin, ywin):
    """Map a data window onto a rectangular area of the page."""
    (px0, px1), (py0, py1) = cols, rows
    (dx0, dx1), (dy0, dy1) = xwin, ywin
    xs = (dx1 - dx0) / (px1 - px0)
    ys = (dy1 - dy0) / (py1 - py0)
    p.extra_x_ranges[name] = Range1d(dx0 - px0 * xs, dx1 + (W - px1) * xs)
    p.extra_y_ranges[name] = Range1d(dy0 - (H - py1) * ys, dy1 + py0 * ys)


def add_frame(cols, rows):
    p.add_layout(BoxAnnotation(left=cols[0], right=cols[1], top=rows[0], bottom=rows[1],
                               fill_color=None, line_color=FRAME_COLOR, line_alpha=1.0,
                               line_width=1.4))


# ---- top row: histograms ----
hist_counts = [slope_counts, elevation_counts, logkdsn_counts, logedtc_counts, logkdurb_counts]
hist_bins = [slope_bins, elevation_bins, logkdsn_bins, logedtc_bins, logkdurb_bins]

for i, var in enumerate(variables):
    name = f"h{i}"
    add_panel_ranges(name, COLS[i], TOP_ROW, hist_xwin[i], count_win)
    lo, hi = hist_bins[i]
    counts = hist_counts[i]
    edges = np.linspace(lo, hi, len(counts) + 1)
    p.quad(left=edges[:-1], right=edges[1:], bottom=0, top=counts,
           fill_color=BAR_FILL, line_color=BAR_LINE, line_width=1,
           x_range_name=name, y_range_name=name)
    add_frame(COLS[i], TOP_ROW)
    p.add_layout(Label(x=TITLE_X[i], y=18, text=var, text_align="center",
                       text_baseline="alphabetic", text_font=FONT,
                       text_font_size="20px", text_color=TEXT_COLOR))

# ---- bottom row: LogKDUrb against each predictor ----
scatter_sets = [slope_pts, elevation_pts, logkdsn_pts, logedtc_pts]
for i, pts in enumerate(scatter_sets):
    name = f"s{i}"
    add_panel_ranges(name, COLS[i], BOTTOM_ROW, scatter_xwin[i], logkdurb_win)
    xs = [a for a, _ in pts]
    ys = [b for _, b in pts]
    p.scatter(xs, ys, marker="circle", size=7, fill_color=DOT_FILL,
              line_color=DOT_LINE, line_width=0.6,
              x_range_name=name, y_range_name=name)
    x0, x1 = min(xs), max(xs)
    b, m = fit_intercepts[i], fit_slopes[i]
    p.line([x0, x1], [b + m * x0, b + m * x1], line_color=FIT_COLOR, line_width=1.6,
           x_range_name=name, y_range_name=name)
    add_frame(COLS[i], BOTTOM_ROW)

p.add_layout(Label(x=18.5, y=356, text="LogKDUrb", angle=math.pi / 2,
                   text_align="center", text_baseline="alphabetic", text_font=FONT,
                   text_font_size="20px", text_color=TEXT_COLOR))

open("out.html", "w").write(file_html(p, INLINE))
